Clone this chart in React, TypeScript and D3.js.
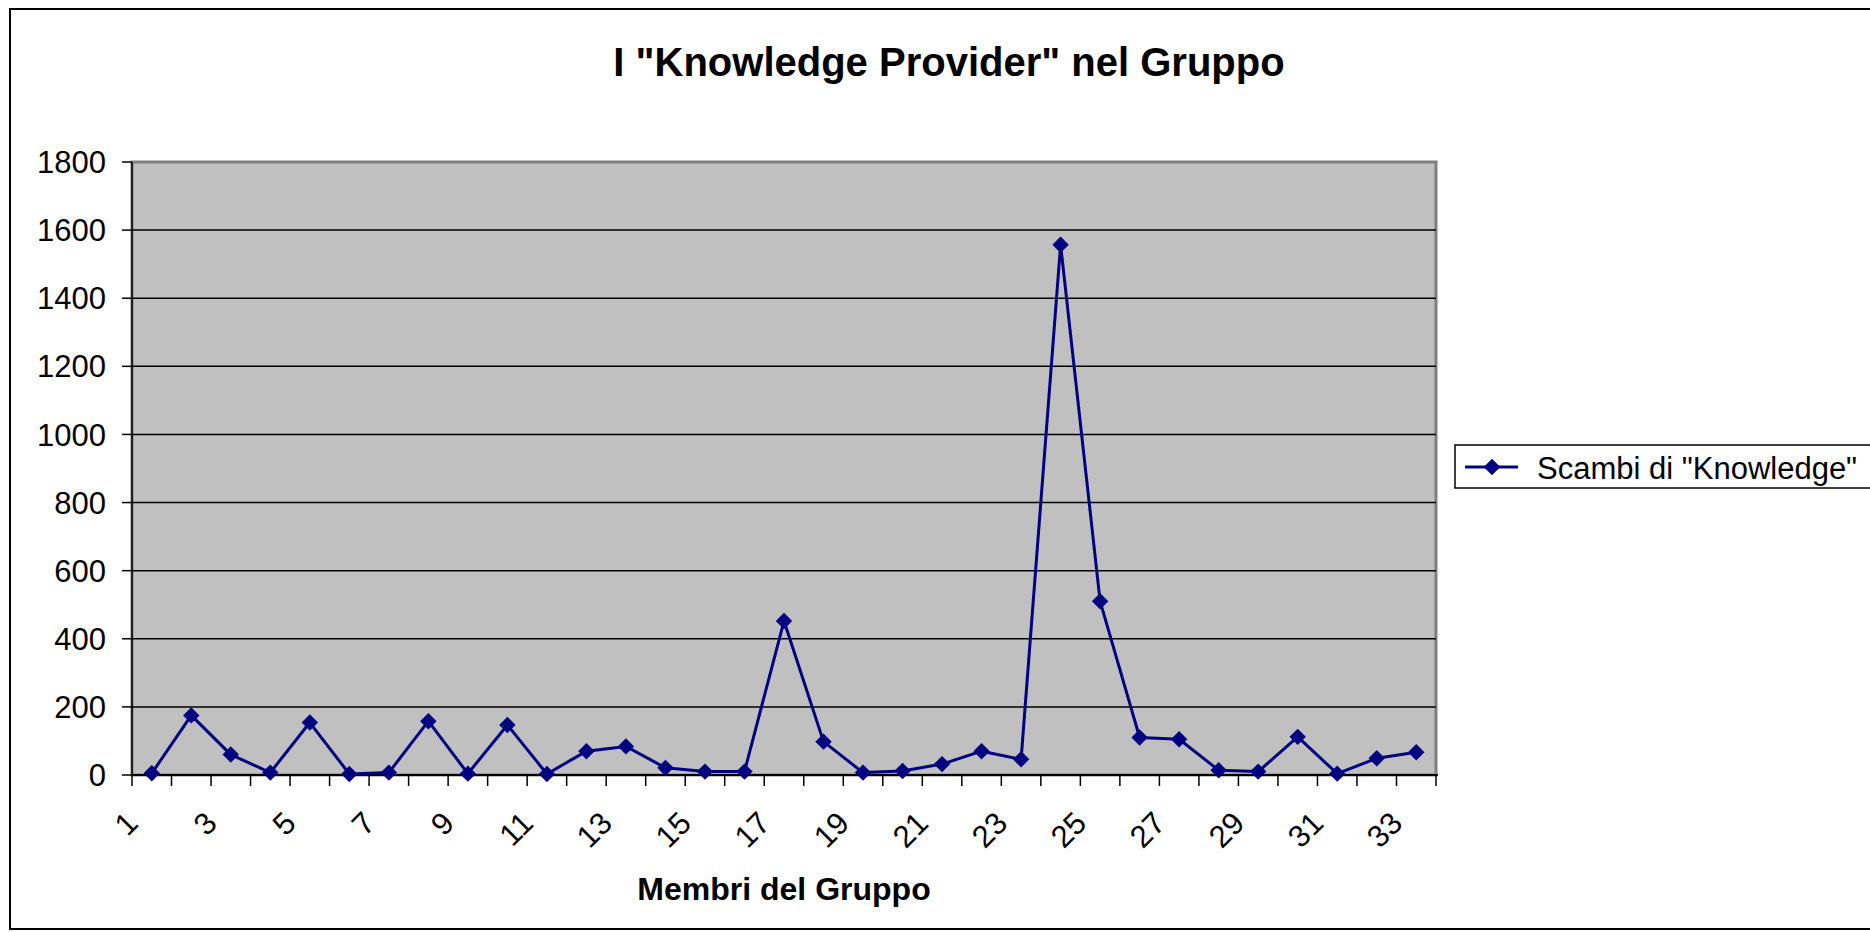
import React from "react";
import * as d3 from "d3";

const members = d3.range(1, 34).map(String);
const scambi = [
  5, 175, 60, 7, 154, 3, 7, 158, 4, 147, 3, 70, 84, 21, 10, 10, 452, 98, 7, 12,
  32, 70, 46, 1557, 510, 110, 105, 14, 10, 112, 4, 49, 67,
];
const yTicks = [0, 200, 400, 600, 800, 1000, 1200, 1400, 1600, 1800];

const title = 'I "Knowledge Provider" nel Gruppo';
const xTitle = "Membri del Gruppo";
const seriesName = 'Scambi di "Knowledge"';

const W = 1870;
const H = 932;
const FONT = "'Liberation Sans', Arial, sans-serif";
const NAVY = "#000080";

export default function App() {
  const left = 132, right = 1436, top = 162, bottom = 775;

  const x = d3.scaleBand().domain(members).range([left, right]).padding(0);
  const y = d3.scaleLinear().domain([0, 1800]).range([bottom, top]);

  const line = d3
    .line<number>()
    .x((d, i) => x(members[i])! + x.bandwidth() / 2)
    .y((d) => y(d));

  const diamond = d3.symbol().type(d3.symbolSquare).size(135)()!;

  // band edges for category ticks
  const edges = members.map((m) => x(m)!).concat([right]);

  return (
    <svg
      width={W}
      height={H}
      style={{ position: "absolute", left: 0, top: 0, background: "#fff" }}
      fontFamily={FONT}
    >
      <rect x={10} y={9} width={1900} height={920} fill="#fff" stroke="#000" strokeWidth={2} />

      <text x={949} y={76} textAnchor="middle" fontSize={40} fontWeight="bold">
        {title}
      </text>

      {/* plot area */}
      <rect x={left} y={top} width={right - left} height={bottom - top} fill="#C0C0C0" stroke="#808080" strokeWidth={3} />

      {yTicks.map((t) => (
        <g key={t}>
          {t > 0 && t < 1800 && (
            <line x1={left} x2={right} y1={y(t)} y2={y(t)} stroke="#000" strokeWidth={1.5} />
          )}
          <line x1={left - 10} x2={left} y1={y(t)} y2={y(t)} stroke="#000" strokeWidth={1.5} />
          <text x={106} y={y(t)} dy="0.36em" textAnchor="end" fontSize={31}>
            {t}
          </text>
        </g>
      ))}

      {/* axes */}
      <line x1={left} x2={left} y1={top} y2={bottom} stroke="#000" strokeWidth={1.5} />
      <line x1={left} x2={right + 2} y1={bottom} y2={bottom} stroke="#000" strokeWidth={2} />
      {edges.map((e, i) => (
        <line key={i} x1={e} x2={e} y1={bottom} y2={bottom + 11} stroke="#000" strokeWidth={1.5} />
      ))}

      {members.map((m, i) =>
        i % 2 === 0 ? (
          <text
            key={m}
            transform={`translate(${x(m)! + x.bandwidth() / 2 - 12},${bottom + 50}) rotate(-45)`}
            textAnchor="end"
            fontSize={31}
          >
            {m}
          </text>
        ) : null
      )}

      <text x={(left + right) / 2} y={900} textAnchor="middle" fontSize={32} fontWeight="bold">
        {xTitle}
      </text>

      {/* series */}
      <path d={line(scambi)!} fill="none" stroke={NAVY} strokeWidth={3} strokeLinejoin="round" />
      {scambi.map((v, i) => (
        <path
          key={i}
          d={diamond}
          transform={`translate(${x(members[i])! + x.bandwidth() / 2},${y(v)}) rotate(45)`}
          fill={NAVY}
        />
      ))}

      {/* legend */}
      <rect x={1455} y={445} width={440} height={43} fill="#fff" stroke="#000" strokeWidth={1.5} />
      <line x1={1465} x2={1518} y1={467} y2={467} stroke={NAVY} strokeWidth={3} />
      <path d={diamond} transform="translate(1492,467) rotate(45)" fill={NAVY} />
      <text x={1537} y={479} fontSize={31}>
        {seriesName}
      </text>
    </svg>
  );
}
